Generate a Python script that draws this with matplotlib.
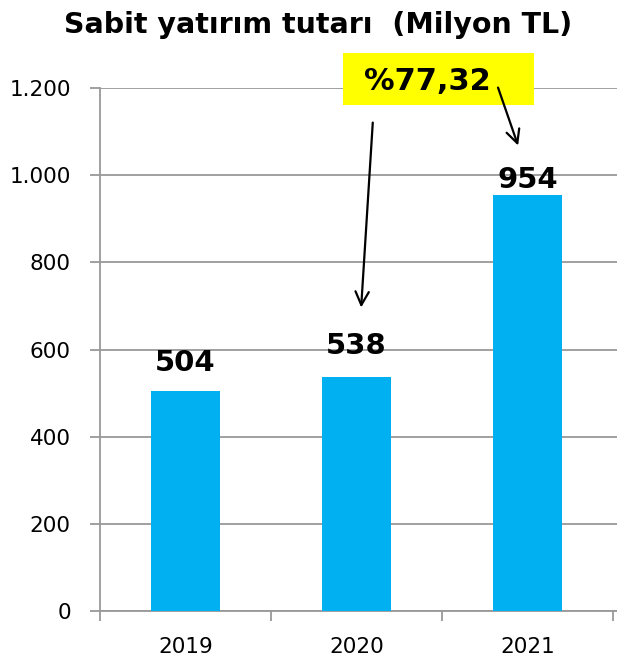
import numpy as np
import matplotlib.pyplot as plt
from matplotlib.patches import Rectangle

years = ['2019', '2020', '2021']
values = [504, 538, 954]
growth_label = '%77,32'
yticks = [0, 200, 400, 600, 800, 1000, 1200]
ytick_labels = ['0', '200', '400', '600', '800', '1.000', '1.200']

fig = plt.figure(figsize=(6.17, 6.63), dpi=100)
ax = fig.add_axes([100/617, 52/663, 517/617, 523/663])

x = np.arange(len(years))
ax.bar(x, values, width=0.4, color='#00B0F0', zorder=3)

ax.set_xlim(-0.5, 2.523)
ax.set_ylim(0, 1200)
ax.set_yticks(yticks)
ax.set_yticklabels(ytick_labels, fontsize=15.5)
ax.set_xticks(x)
ax.set_xticklabels(years, fontsize=15.5)
ax.set_xticks([-0.5, 0.5, 1.5, 2.5], minor=True)
ax.tick_params(axis='x', which='major', length=0, pad=19)
ax.tick_params(axis='x', which='minor', length=7, width=1.3, color='#999999', direction='out')
ax.tick_params(axis='y', length=7, width=1.3, color='#999999', pad=14)
ax.yaxis.grid(True, color='#999999', linewidth=1.3, zorder=0)
for s in ['top', 'right']:
    ax.spines[s].set_visible(False)
for s in ['left', 'bottom']:
    ax.spines[s].set_color('#999999')
    ax.spines[s].set_linewidth(1.3)

# value labels
offsets = [66, 70, 34]
for xi, v, off in zip(x, values, offsets):
    ax.text(xi, v + off, str(v), ha='center', va='center', fontsize=21, fontweight='bold', zorder=4)

fig.suptitle('Sabit yatırım tutarı  (Milyon TL)', x=0.515, y=0.983, va='top', fontsize=20.5, fontweight='bold')

# yellow growth box
ax.add_patch(Rectangle((0.921, 1161), 2.038 - 0.921, 1280 - 1161, facecolor='#FFFF00',
                       edgecolor='none', clip_on=False, zorder=5))
ax.text(1.415, 1216, growth_label, ha='center', va='center', fontsize=22, fontweight='bold',
        zorder=6, clip_on=False)

ax.annotate('', xy=(1.026, 690), xytext=(1.096, 1127),
            arrowprops=dict(arrowstyle='->', color='black', lw=1.6, mutation_scale=24), zorder=6)
ax.annotate('', xy=(1.950, 1062), xytext=(1.822, 1207),
            arrowprops=dict(arrowstyle='->', color='black', lw=1.6, mutation_scale=24),
            annotation_clip=False, zorder=6)

fig.savefig('out.png', dpi=100)
